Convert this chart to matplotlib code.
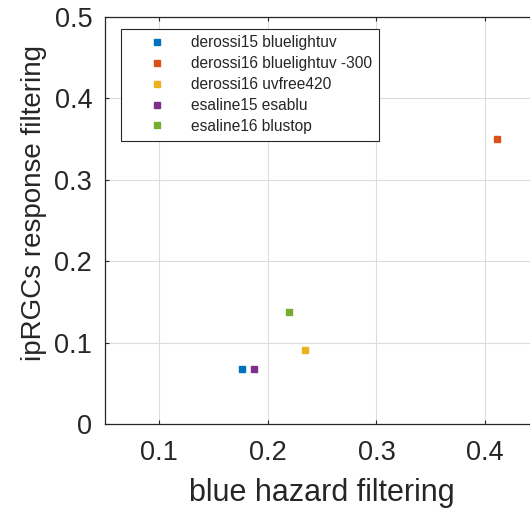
import matplotlib
matplotlib.use("Agg")
import matplotlib.pyplot as plt

labels = ["derossi15 bluelightuv", "derossi16 bluelightuv -300", "derossi16 uvfree420",
          "esaline15 esablu", "esaline16 blustop"]
x_vals = [0.176, 0.411, 0.234, 0.187, 0.220]
y_vals = [0.067, 0.350, 0.091, 0.067, 0.138]
colors = ["#0072BD", "#D95319", "#EDB120", "#7E2F8E", "#77AC30"]
xticks = [0.1, 0.2, 0.3, 0.4]
yticks = [0, 0.1, 0.2, 0.3, 0.4, 0.5]

plt.rcParams['font.family'] = ['Liberation Sans', 'DejaVu Sans']
W, H = 530, 512
fig = plt.figure(figsize=(W/100, H/100), dpi=100)
ax = fig.add_axes([104.7/W, (H-424)/H, 434.8/W, 407.3/H])

for x, y, c, l in zip(x_vals, y_vals, colors, labels):
    ax.plot([x], [y], linestyle='none', marker='s', markersize=5, color=c,
            markeredgecolor=c, label=l)

ax.set_xlim(0.05, 0.45)
ax.set_ylim(0, 0.5)
ax.set_xticks(xticks)
ax.set_xticklabels([f"{t:g}" for t in xticks])
ax.set_yticks(yticks)
ax.set_yticklabels([f"{t:g}" for t in yticks])
ax.grid(True, color='#dcdcdc', linewidth=0.8)
ax.set_axisbelow(True)
ax.tick_params(direction='in', length=3, width=0.8, colors='#262626', labelsize=19.5,
               top=True, right=True, pad=9)
ax.tick_params(axis='x', pad=11.5)
for s in ax.spines.values():
    s.set_color('#262626')
    s.set_linewidth(0.9)
ax.set_xlabel("blue hazard filtering", fontsize=22, color='#262626')
ax.xaxis.set_label_coords(0.5, -0.132)
ax.set_ylabel("ipRGCs response filtering", fontsize=20, color='#262626')
ax.yaxis.set_label_coords(-0.1327, 0.5414)

leg = ax.legend(loc='upper left', bbox_to_anchor=(121/W, 1-28.5/H), bbox_transform=fig.transFigure,
                fontsize=11.2, frameon=True, fancybox=False, framealpha=1,
                edgecolor='#262626', borderpad=0.45, labelspacing=0.375,
                handlelength=3.67, handletextpad=0.39, borderaxespad=0, markerscale=1.0)
leg.get_frame().set_linewidth(0.8)
for t in leg.get_texts():
    t.set_color('#262626')

fig.savefig("out.png", dpi=100)
